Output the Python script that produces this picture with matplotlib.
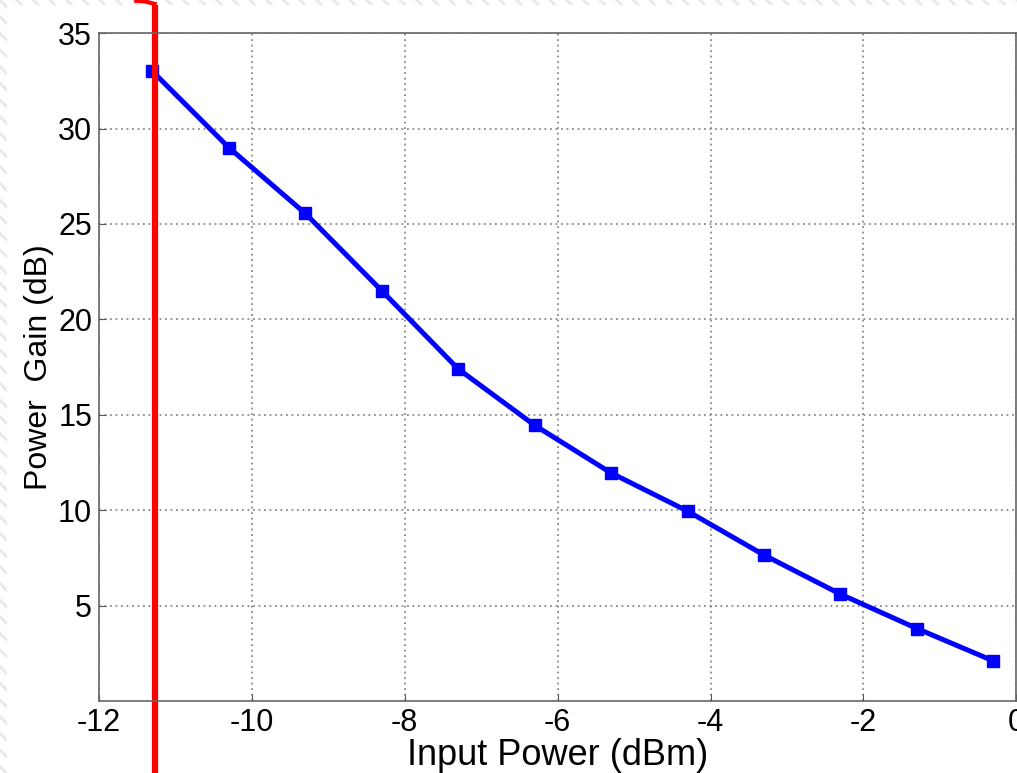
import matplotlib.pyplot as plt
from matplotlib.patches import Rectangle
from matplotlib.lines import Line2D

# data
input_power = [-11.3, -10.3, -9.3, -8.3, -7.3, -6.3, -5.3, -4.3, -3.3, -2.3, -1.3, -0.3]
power_gain = [33.0, 29.0, 25.55, 21.5, 17.4, 14.45, 11.95, 9.95, 7.65, 5.6, 3.8, 2.1]
marker_x = -11.27
x_ticks = [-12, -10, -8, -6, -4, -2, 0]
y_ticks = [5, 10, 15, 20, 25, 30, 35]

plt.rcParams['font.family'] = ['Liberation Sans', 'DejaVu Sans']
plt.rcParams['axes.unicode_minus'] = False
plt.rcParams['hatch.linewidth'] = 2.0

fig = plt.figure(figsize=(10.17, 7.73), dpi=100)

# faint hatched strips along the top and left edges (screenshot background)
fig.patches.append(Rectangle((0, 0.993), 1, 0.007, transform=fig.transFigure,
                             facecolor='white', edgecolor='#e8e8e8', hatch='\\\\', linewidth=0))
fig.patches.append(Rectangle((0, 0), 0.007, 1, transform=fig.transFigure,
                             facecolor='white', edgecolor='#e8e8e8', hatch='\\\\', linewidth=0))

ax = fig.add_axes([0.0973, 0.0931, 0.902, 0.864])

ax.plot(input_power, power_gain, color='#0000ff', linewidth=3.6,
        marker='s', markersize=9, markerfacecolor='#0000ff', markeredgecolor='#0000ff')

# red cursor line, runs past the axes on both ends
ax.axvline(marker_x, ymin=-0.11, ymax=1.042, color='#ff0000', linewidth=4.5, clip_on=False)
fig.lines.append(Line2D([0.134, 0.143, 0.152], [0.999, 0.998, 0.995], transform=fig.transFigure,
                        color='#ff0000', linewidth=3))

ax.set_xlim(-12, 0)
ax.set_ylim(0, 35)
ax.set_xticks(x_ticks)
ax.set_yticks(y_ticks)
ax.tick_params(direction='in', labelsize=22, length=5, color='#555555', pad=5)
ax.grid(True, linestyle=(0, (1.2, 2.4)), color='#777777', linewidth=1.1)
for s in ax.spines.values():
    s.set_color('#666666')
    s.set_linewidth(1.2)

ax.set_xlabel('Input Power (dBm)', fontsize=26, labelpad=0)
ax.set_ylabel('Power  Gain (dB)', fontsize=23, labelpad=3)

fig.savefig('out.png', dpi=100)
